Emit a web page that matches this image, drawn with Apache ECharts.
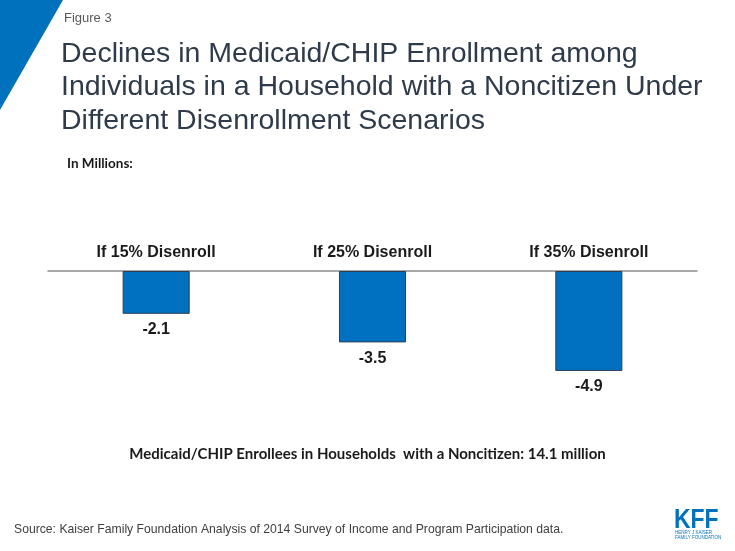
<!DOCTYPE html>
<html>
<head>
<meta charset="utf-8">
<script src="https://cdn.jsdelivr.net/npm/echarts@6/dist/echarts.min.js"></script>
<style>
html,body{margin:0;padding:0;background:#fff;}
#c{width:735px;height:551px;}
</style>
</head>
<body>
<div id="c"></div>
<script>
var categories = ['If 15% Disenroll', 'If 25% Disenroll', 'If 35% Disenroll'];
var declines = [-2.1, -3.5, -4.9];
var titleLines = ['Declines in Medicaid/CHIP Enrollment among', 'Individuals in a Household with a Noncitizen Under', 'Different Disenrollment Scenarios'];
var figureLabel = 'Figure 3';
var unitLabel = 'In Millions:';
var footnote = 'Medicaid/CHIP Enrollees in Households  with a Noncitizen: 14.1 million';
var sourceText = 'Source: Kaiser Family Foundation Analysis of 2014 Survey of Income and Program Participation data.';

var chart = echarts.init(document.getElementById('c'), null, {renderer: 'canvas'});
chart.setOption({
  backgroundColor: '#ffffff',
  animation: false,
  title: {
    text: titleLines.join('\n'),
    left: 56, top: 32,
    textStyle: {fontFamily: 'Liberation Sans, Arial, sans-serif', fontSize: 28.5, fontWeight: 'normal', color: '#2f3b4a', lineHeight: 33.5}
  },
  grid: {left: 48, right: 38, top: 271, height: 102, containLabel: false},
  xAxis: {
    type: 'category', position: 'top', data: categories,
    axisLine: {show: true, onZero: false, lineStyle: {color: '#8c8c8c', width: 1.5}},
    axisTick: {show: false},
    axisLabel: {margin: 10, fontFamily: 'Liberation Sans, Arial, sans-serif', fontSize: 16, fontWeight: 'bold', color: '#1a1a1a'}
  },
  yAxis: {type: 'value', min: -5, max: 0, show: false, splitLine: {show: false}},
  series: [{
    type: 'bar', data: declines, barWidth: '31%',
    itemStyle: {color: '#0070c0', borderColor: '#2e3f52', borderWidth: 1},
    label: {show: true, position: 'bottom', distance: 8, fontFamily: 'Liberation Sans, Arial, sans-serif', fontSize: 16, fontWeight: 'bold', color: '#1a1a1a', formatter: function(p){return p.value.toFixed(1);}}
  }],
  graphic: [
    {type: 'polygon', shape: {points: [[0,0],[63,0],[0,110]]}, style: {fill: '#0071bc'}, silent: true},
    {type: 'text', left: 64, top: 12, style: {text: figureLabel, font: '13px "Liberation Sans", Arial, sans-serif', fill: '#595959'}},
    {type: 'text', left: 67, top: 157, style: {text: unitLabel, font: 'bold 13.5px Lato, "Open Sans", sans-serif', fill: '#1a1a1a'}},
    {type: 'text', left: 'center', top: 447, style: {text: footnote, font: 'bold 15px Lato, "Open Sans", sans-serif', fill: '#1a1a1a', textAlign: 'center'}},
    {type: 'text', left: 14, top: 524, style: {text: sourceText, font: '12.2px "Liberation Sans", Arial, sans-serif', fill: '#404040'}},
    {type: 'text', x: 674, y: 506, scaleX: 0.82, style: {text: 'KFF', font: 'bold 28px "Liberation Sans", Arial, sans-serif', fill: '#0071bc'}},
    {type: 'text', left: 675, top: 530, style: {text: 'HENRY J KAISER\nFAMILY FOUNDATION', font: '4.5px "Liberation Sans", Arial, sans-serif', fill: '#0071bc', lineHeight: 5}}
  ]
});
</script>
</body>
</html>
